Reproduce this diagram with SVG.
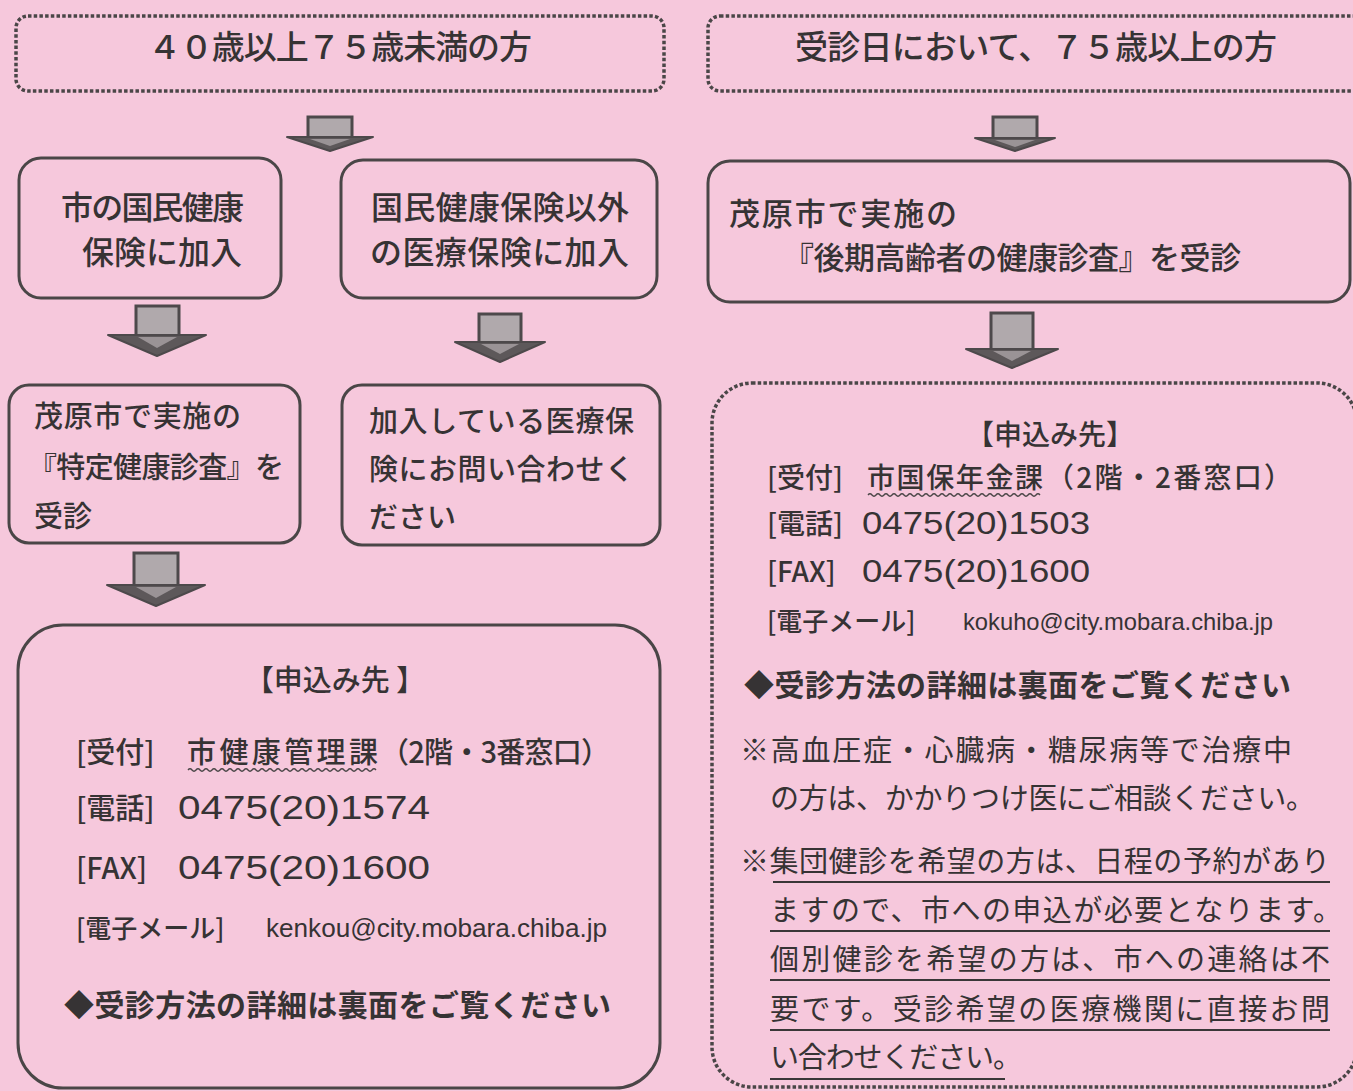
<svg xmlns="http://www.w3.org/2000/svg" width="1353" height="1091" viewBox="0 0 1353 1091">
<style>
.t{font-family:"Noto Sans CJK JP","Noto Sans CJK SC",sans-serif;fill:#363334;font-weight:500}
.b{font-weight:bold}
.m{font-weight:400}
.em{font-family:"Liberation Sans","Noto Sans CJK JP",sans-serif;fill:#363334}
.box{fill:none;stroke:#4a4647;stroke-width:3}
.dot{fill:none;stroke:#4a4647;stroke-width:3.5;stroke-dasharray:3.5 2.2}
.shaft{fill:#b0a9ac;stroke:#4d494b;stroke-width:3}
.head{fill:#5d585a;stroke:#4d494b;stroke-width:2;stroke-linejoin:round}
.hin{fill:#9a9396}
.ul{stroke:#3a3738;stroke-width:2;fill:none}
.wv{stroke:#4a4647;stroke-width:1.3;fill:none}
</style>
<rect x="0" y="0" width="1353" height="1091" fill="#f6c8dc"/>

<g id="connectors">
  <g id="a1"><rect class="shaft" x="308" y="117" width="44" height="21"/><polygon class="head" points="287,137 373,137 330,151"/><polygon class="hin" points="310,139 350,139 330,146"/></g>
  <g id="a2"><rect class="shaft" x="993" y="117" width="44" height="22"/><polygon class="head" points="975,138 1055,138 1015,151"/><polygon class="hin" points="995,140 1035,140 1015,147"/></g>
  <g id="a3"><rect class="shaft" x="136" y="306" width="43" height="30"/><polygon class="head" points="108,335 206,335 157,356"/><polygon class="hin" points="138,337 177,337 157,348"/></g>
  <g id="a4"><rect class="shaft" x="479" y="314" width="42" height="29"/><polygon class="head" points="455,342 545,342 500,362"/><polygon class="hin" points="481,344 519,344 500,354"/></g>
  <g id="a5"><rect class="shaft" x="991" y="313" width="42" height="37"/><polygon class="head" points="966,349 1058,349 1012,368"/><polygon class="hin" points="993,351 1031,351 1012,361"/></g>
  <g id="a6"><rect class="shaft" x="134" y="553" width="44" height="33"/><polygon class="head" points="107,585 205,585 156,606"/><polygon class="hin" points="136,587 176,587 156,598"/></g>
</g>

<g id="n-age40">
  <rect class="dot" x="16" y="16" width="648" height="75" rx="12"/>
  <text class="t" x="148" y="59" font-size="33" textLength="384">４０歳以上７５歳未満の方</text>
</g>
<g id="n-age75">
  <rect class="dot" x="708" y="16" width="660" height="75" rx="12"/>
  <text class="t" x="795" y="59" font-size="33" textLength="482">受診日において、７５歳以上の方</text>
</g>

<g id="n-kokuho">
  <rect class="box" x="19" y="158" width="262" height="140" rx="22"/>
  <text class="t" x="61" y="219" font-size="32" textLength="183">市の国民健康</text>
  <text class="t" x="82" y="264" font-size="32" textLength="160">保険に加入</text>
</g>
<g id="n-other">
  <rect class="box" x="341" y="160" width="316" height="138" rx="22"/>
  <text class="t" x="371" y="219" font-size="32" textLength="258">国民健康保険以外</text>
  <text class="t" x="370" y="264" font-size="32" textLength="259">の医療保険に加入</text>
</g>
<g id="n-kouki">
  <rect class="box" x="708" y="161" width="642" height="141" rx="22"/>
  <text class="t" x="729" y="225" font-size="31" textLength="228">茂原市で実施の</text>
  <text class="t" x="783" y="269" font-size="31" textLength="458">『後期高齢者の健康診査』を受診</text>
</g>

<g id="n-tokutei">
  <rect class="box" x="9" y="385" width="291" height="158" rx="20"/>
  <text class="t" x="34" y="427" font-size="29" textLength="207">茂原市で実施の</text>
  <text class="t" x="28" y="478" font-size="29" textLength="256">『特定健康診査』を</text>
  <text class="t" x="34" y="527" font-size="29">受診</text>
</g>
<g id="n-inquire">
  <rect class="box" x="342" y="385" width="318" height="160" rx="20"/>
  <text class="t" x="369" y="432" font-size="29" textLength="265">加入している医療保</text>
  <text class="t" x="369" y="480" font-size="29" textLength="265">険にお問い合わせく</text>
  <text class="t" x="369" y="528" font-size="29">ださい</text>
</g>

<g id="n-apply-left">
  <rect class="box" x="18" y="625" width="642" height="463" rx="45"/>
  <text class="t" x="335" y="691" font-size="29" text-anchor="middle">【申込み先 】</text>
  <text class="t" y="763" font-size="29"><tspan x="76">[受付]</tspan><tspan x="187" textLength="191">市健康管理課</tspan><tspan x="380" textLength="230">（2階・3番窓口）</tspan></text>
  <path class="wv" d="M188 770 q2 -2.5 4 0 t4 0 t4 0 t4 0 t4 0 t4 0 t4 0 t4 0 t4 0 t4 0 t4 0 t4 0 t4 0 t4 0 t4 0 t4 0 t4 0 t4 0 t4 0 t4 0 t4 0 t4 0 t4 0 t4 0 t4 0 t4 0 t4 0 t4 0 t4 0 t4 0 t4 0 t4 0 t4 0 t4 0 t4 0 t4 0 t4 0 t4 0 t4 0 t4 0 t4 0 t4 0 t4 0 t4 0 t4 0 t4 0 t4 0"/>
  <text class="t" y="819" font-size="29"><tspan x="76">[電話]</tspan></text>
  <text class="em" x="178" y="819" font-size="33" textLength="252" lengthAdjust="spacingAndGlyphs">0475(20)1574</text>
  <text class="t" y="879" font-size="29"><tspan x="76">[FAX]</tspan></text>
  <text class="em" x="178" y="879" font-size="33" textLength="252" lengthAdjust="spacingAndGlyphs">0475(20)1600</text>
  <text class="t" y="938" font-size="26"><tspan x="76">[電子メール]</tspan></text>
  <text class="em" x="266" y="937" font-size="25" textLength="341" lengthAdjust="spacingAndGlyphs">kenkou@city.mobara.chiba.jp</text>
  <text class="t b" x="64" y="1016" font-size="30" textLength="547">◆受診方法の詳細は裏面をご覧ください</text>
</g>

<g id="n-apply-right">
  <rect class="dot" x="712" y="383" width="645" height="704" rx="40"/>
  <text class="t" x="1050" y="445" font-size="28" text-anchor="middle">【申込み先】</text>
  <text class="t" y="488" font-size="28"><tspan x="767">[受付]</tspan><tspan x="867" textLength="176">市国保年金課</tspan><tspan x="1046" textLength="246">（2階・2番窓口）</tspan></text>
  <path class="wv" d="M868 495 q2 -2.5 4 0 t4 0 t4 0 t4 0 t4 0 t4 0 t4 0 t4 0 t4 0 t4 0 t4 0 t4 0 t4 0 t4 0 t4 0 t4 0 t4 0 t4 0 t4 0 t4 0 t4 0 t4 0 t4 0 t4 0 t4 0 t4 0 t4 0 t4 0 t4 0 t4 0 t4 0 t4 0 t4 0 t4 0 t4 0 t4 0 t4 0 t4 0 t4 0 t4 0 t4 0 t4 0 t4 0"/>
  <text class="t" y="534" font-size="28"><tspan x="767">[電話]</tspan></text>
  <text class="em" x="862" y="534" font-size="31" textLength="228" lengthAdjust="spacingAndGlyphs">0475(20)1503</text>
  <text class="t" y="582" font-size="28"><tspan x="767">[FAX]</tspan></text>
  <text class="em" x="862" y="582" font-size="31" textLength="228" lengthAdjust="spacingAndGlyphs">0475(20)1600</text>
  <text class="t" y="631" font-size="26"><tspan x="767">[電子メール]</tspan></text>
  <text class="em" x="963" y="630" font-size="24" textLength="310" lengthAdjust="spacingAndGlyphs">kokuho@city.mobara.chiba.jp</text>
  <text class="t b" x="744" y="696" font-size="30" textLength="547">◆受診方法の詳細は裏面をご覧ください</text>
  <text class="t m" x="740" y="761" font-size="29" textLength="552">※高血圧症・心臓病・糖尿病等で治療中</text>
  <text class="t m" x="770" y="809" font-size="29" textLength="545">の方は、かかりつけ医にご相談ください。</text>
  <text class="t m" x="740" y="872" font-size="29" textLength="590">※集団健診を希望の方は、日程の予約があり</text>
  <text class="t m" x="770" y="921" font-size="29" textLength="572">ますので、市への申込が必要となります。</text>
  <text class="t m" x="770" y="970" font-size="29" textLength="560">個別健診を希望の方は、市への連絡は不</text>
  <text class="t m" x="770" y="1020" font-size="29" textLength="560">要です。受診希望の医療機関に直接お問</text>
  <text class="t m" x="770" y="1068" font-size="29" textLength="252">い合わせください。</text>
  <path class="ul" d="M773 882 H1330 M770 931 H1330 M770 980 H1330 M770 1030 H1330 M770 1079 H1005"/>
</g>
</svg>
